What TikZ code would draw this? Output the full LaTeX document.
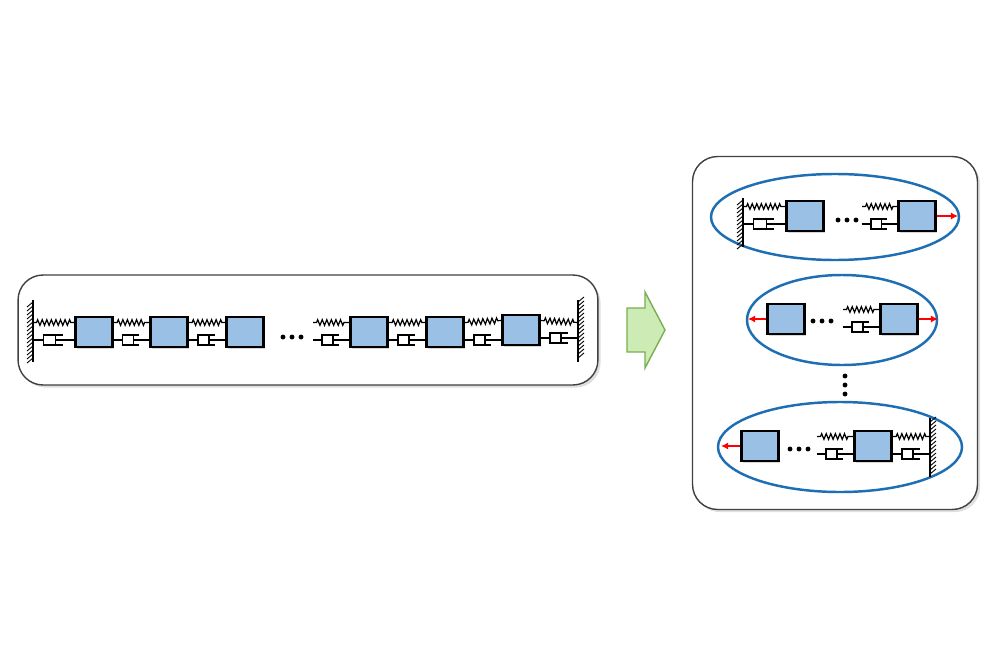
\documentclass[tikz,border=0pt]{standalone}
\usepackage{xcolor}
\usetikzlibrary{positioning,calc,arrows.meta,decorations.pathmorphing,shadows}
\definecolor{massblue}{RGB}{155,192,230}
\definecolor{ringblue}{RGB}{30,110,180}
\definecolor{arrowgreen}{RGB}{205,235,180}
\definecolor{arrowedge}{RGB}{120,175,80}
\newcommand{\dashpot}[2]{%
\draw[line width=0.8pt] let \p1=#1, \p2=#2, \n1={\x2-\x1} in
  (\p1) -- (\x1+0.25*\n1,\y1)
  (\x1+0.72*\n1,\y1+2.8pt) -- (\x1+0.25*\n1,\y1+2.8pt) -- (\x1+0.25*\n1,\y1-2.8pt) -- (\x1+0.72*\n1,\y1-2.8pt)
  (\x1+0.55*\n1,\y1+2pt) -- (\x1+0.55*\n1,\y1-2pt)
  (\x1+0.55*\n1,\y1) -- (\x2,\y1);}
\begin{document}
\begin{tikzpicture}[x=0.02cm, y=-0.02cm,
  mass/.style={draw, line width=1.3pt, fill=massblue, minimum width=0.74cm, minimum height=0.6cm, drop shadow={opacity=0.3, shadow xshift=1pt, shadow yshift=-1pt}},
  spring/.style={decorate, line width=0.7pt, decoration={zigzag, segment length=2.6pt, amplitude=1.6pt, pre length=2pt, post length=2pt}},
  panel/.style={draw=black!75, line width=0.8pt, rounded corners=0.5cm, fill=white, drop shadow={opacity=0.25, shadow xshift=1.5pt, shadow yshift=-1.5pt}},
  ring/.style={draw=ringblue, line width=1.4pt},
  force/.style={-{Latex[length=4pt, width=4pt]}, red, line width=1.2pt},
  wall/.style={line width=1.3pt}]
\useasboundingbox (0,0) rectangle (1000,666);
% left panel
\node[panel, minimum width=11.6cm, minimum height=2.2cm] (left) at (308,330) {};
\draw[wall] (33,300) -- (33,362);
\foreach \y in {302,306,...,360} \draw[line width=0.5pt] (33,\y) -- (27,\y+5);
\draw[wall] (578,300) -- (578,362);
\foreach \y in {302,306,...,360} \draw[line width=0.5pt] (578,\y) -- (584,\y-5);
\coordinate (wl) at (33,332);
\coordinate (wr) at (578,332);
\coordinate (fl) at (313,332);
\node[mass] (m1) at (94,332) {};
\node[mass] (m2) at (169,332) {};
\node[mass] (m3) at (245,332) {};
\node[mass] (m4) at (369,332) {};
\node[mass] (m5) at (445,332) {};
\node[mass] (m6) at (521,330) {};
\foreach \a/\b in {wl/m1.west, m1.east/m2.west, m2.east/m3.west, fl/m4.west, m4.east/m5.west, m5.east/m6.west, m6.east/wr}{
  \draw[spring] ([yshift=0.19cm]\a) -- ([yshift=0.19cm]\b);
  \dashpot{([yshift=-0.16cm]\a)}{([yshift=-0.16cm]\b)}
}
\foreach \x in {283,292,301} \fill (\x,337) circle (1.4pt);
% arrow
\draw[draw=arrowedge, fill=arrowgreen, line width=0.8pt] (627,308) -- (645,308) -- (645,292) -- (665,330) -- (645,368) -- (645,352) -- (627,352) -- cycle;
% right panel
\node[panel, minimum width=5.7cm, minimum height=7.06cm] (right) at (835,333) {};
% first group
\draw[ring] (835,217) ellipse (124 and 43);
\draw[wall] (743,198) -- (743,247);
\foreach \y in {200,204,...,244} \draw[line width=0.5pt] (743,\y) -- (737,\y+5);
\coordinate (wa) at (743,216);
\coordinate (fa) at (862,216);
\coordinate (ta) at (958,216);
\node[mass] (a1) at (805,216) {};
\node[mass] (a2) at (917,216) {};
\foreach \a/\b in {wa/a1.west, fa/a2.west}{
  \draw[spring] ([yshift=0.19cm]\a) -- ([yshift=0.19cm]\b);
  \dashpot{([yshift=-0.16cm]\a)}{([yshift=-0.16cm]\b)}
}
\foreach \x in {838,847,856} \fill (\x,220) circle (1.4pt);
\draw[force] (a2.east) -- (ta);
% second group
\draw[ring] (842,320) ellipse (95 and 45);
\coordinate (fb) at (843,319);
\coordinate (lb) at (748,319);
\coordinate (tb) at (938,319);
\node[mass] (b1) at (786,319) {};
\node[mass] (b2) at (899,319) {};
\draw[spring] ([yshift=0.19cm]fb) -- ([yshift=0.19cm]b2.west);
\dashpot{([yshift=-0.16cm]fb)}{([yshift=-0.16cm]b2.west)}
\foreach \x in {813,822,831} \fill (\x,321) circle (1.4pt);
\draw[force] (b1.west) -- (lb);
\draw[force] (b2.east) -- (tb);
\foreach \y in {376,385,394} \fill (845,\y) circle (1.4pt);
% third group
\draw[ring] (840,447) ellipse (122 and 45);
\draw[wall] (930,418) -- (930,477);
\foreach \y in {422,426,...,476} \draw[line width=0.5pt] (930,\y) -- (936,\y-5);
\coordinate (wc) at (930,446);
\coordinate (fc) at (817,446);
\coordinate (lc) at (721,446);
\node[mass] (c1) at (760,446) {};
\node[mass] (c2) at (873,446) {};
\foreach \a/\b in {fc/c2.west, c2.east/wc}{
  \draw[spring] ([yshift=0.19cm]\a) -- ([yshift=0.19cm]\b);
  \dashpot{([yshift=-0.16cm]\a)}{([yshift=-0.16cm]\b)}
}
\foreach \x in {790,799,808} \fill (\x,449) circle (1.4pt);
\draw[force] (c1.west) -- (lc);
\end{tikzpicture}
\end{document}
